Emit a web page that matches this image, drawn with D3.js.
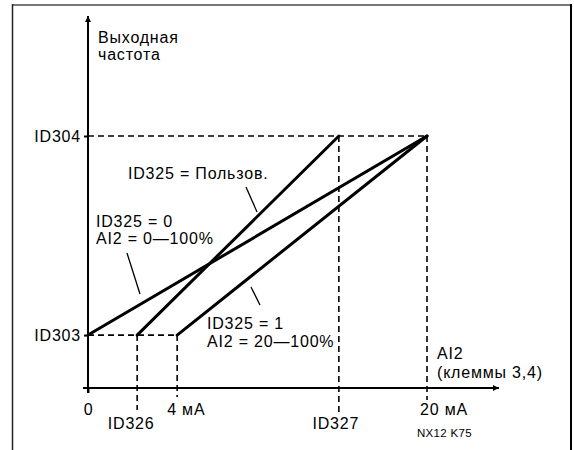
<!DOCTYPE html>
<html>
<head>
<meta charset="utf-8">
<script src="https://cdn.jsdelivr.net/npm/d3@7/dist/d3.min.js"></script>
<style>
  body { margin: 0; background: #fff; }
  text { font-family: "Liberation Sans", Arial, sans-serif; fill: #000; }
</style>
</head>
<body>
<div id="chart"></div>
<script>
// Relative positions on the axes (x: 0..100 % of AI2 span, y: 0..100 % of ID304)
var xMarks = ["0", "ID326", "4 мА", "ID327", "20 мА"];
var xValues = [0, 14.5, 26.3, 74, 100];
var yMarks = ["ID303", "ID304"];
var yValues = [21, 100];

// Three characteristic curves, all run from ID303 to ID304
var curveNames = ["ID325 = 0", "ID325 = Пользов.", "ID325 = 1"];
var curveStart = [0, 14.5, 26.3];
var curveEnd = [100, 74, 100];

var width = 574, height = 450;

var svg = d3.select("#chart").append("svg")
    .attr("width", width)
    .attr("height", height);

var x = d3.scaleLinear().domain([0, 100]).range([88, 427]);
var y = d3.scaleLinear().domain([0, 100]).range([388, 136]);

// frame
svg.append("line").attr("x1", 12).attr("y1", 5).attr("x2", 571).attr("y2", 5)
    .attr("stroke", "#777").attr("stroke-width", 2);
svg.append("line").attr("x1", 12.5).attr("y1", 4).attr("x2", 12.5).attr("y2", 450)
    .attr("stroke", "#222").attr("stroke-width", 1.5);
svg.append("line").attr("x1", 571).attr("y1", 4).attr("x2", 571).attr("y2", 450)
    .attr("stroke", "#000").attr("stroke-width", 2);

var defs = svg.append("defs");
defs.append("marker")
    .attr("id", "arrow")
    .attr("viewBox", "0 0 10 10")
    .attr("refX", 10).attr("refY", 5)
    .attr("markerWidth", 7).attr("markerHeight", 6)
    .attr("markerUnits", "userSpaceOnUse")
    .attr("orient", "auto")
    .append("path").attr("d", "M0,0L10,5L0,10Z").attr("fill", "#000");

// dashed guides
var dash = svg.append("g")
    .attr("stroke", "#000")
    .attr("stroke-width", 1.6)
    .attr("stroke-dasharray", "6,4");
dash.append("line").attr("x1", x(0)).attr("x2", x(100))
    .attr("y1", y(yValues[1])).attr("y2", y(yValues[1]));
dash.append("line").attr("x1", x(0)).attr("x2", x(xValues[2]))
    .attr("y1", y(yValues[0])).attr("y2", y(yValues[0]));
var dashEnds = [null, 410, 397, 414, 400];
var dashTops = [null, yValues[0], yValues[0], yValues[1], yValues[1]];
[1, 2, 3, 4].forEach(function(i) {
    dash.append("line")
        .attr("x1", x(xValues[i])).attr("x2", x(xValues[i]))
        .attr("y1", y(dashTops[i])).attr("y2", dashEnds[i]);
});

// axes
var axisX = d3.axisBottom(x).tickValues([0]).tickFormat("").tickSize(5).tickSizeOuter(0);
var axisY = d3.axisLeft(y).tickValues(yValues).tickFormat("").tickSize(4).tickSizeOuter(0);
var gx = svg.append("g").attr("transform", "translate(0," + y(0) + ")").call(axisX);
var gy = svg.append("g").attr("transform", "translate(" + x(0) + ",0)").call(axisY);
gx.select(".domain").remove();
gy.select(".domain").remove();
gx.selectAll("line").attr("stroke-width", 2);
gy.selectAll("line").attr("stroke-width", 2);

svg.append("line")
    .attr("x1", 83).attr("y1", y(0)).attr("x2", 499).attr("y2", y(0))
    .attr("stroke", "#000").attr("stroke-width", 2).attr("marker-end", "url(#arrow)");
svg.append("line")
    .attr("x1", x(0)).attr("y1", y(0) + 5).attr("x2", x(0)).attr("y2", 16)
    .attr("stroke", "#000").attr("stroke-width", 2).attr("marker-end", "url(#arrow)");

// curves
svg.append("g").selectAll("line")
    .data(curveNames)
    .enter().append("line")
    .attr("x1", function(d, i) { return x(curveStart[i]); })
    .attr("y1", y(yValues[0]))
    .attr("x2", function(d, i) { return x(curveEnd[i]); })
    .attr("y2", y(yValues[1]))
    .attr("stroke", "#000")
    .attr("stroke-width", 3)
    .attr("stroke-linecap", "round");

// leader lines
var leaders = [[127, 253, 140, 294], [246, 187, 257, 212], [251, 287, 260, 305]];
svg.append("g").selectAll("line")
    .data(leaders)
    .enter().append("line")
    .attr("x1", function(d) { return d[0]; })
    .attr("y1", function(d) { return d[1]; })
    .attr("x2", function(d) { return d[2]; })
    .attr("y2", function(d) { return d[3]; })
    .attr("stroke", "#000")
    .attr("stroke-width", 1.3);

// texts
var fs = 16;
function label(t, px, py, anchor, size, ls) {
    return svg.append("text")
        .attr("x", px).attr("y", py)
        .attr("text-anchor", anchor || "start")
        .attr("font-size", size || fs)
        .attr("letter-spacing", ls === undefined ? 0.8 : ls)
        .text(t);
}

label("Выходная", 98, 43);
label("частота", 98, 60);

label(yMarks[1], 81, y(yValues[1]) + 6, "end");
label(yMarks[0], 81, y(yValues[0]) + 6, "end");

label(xMarks[0], x(0) + 0.5, 415, "middle");
label(xMarks[1], x(xValues[1]) - 6, 429, "middle");
label(xMarks[2], x(xValues[2]) - 10, 415, "start");
label(xMarks[3], x(xValues[3]) - 3, 429, "middle");
label(xMarks[4], x(xValues[4]) - 7, 415, "start");

label("AI2", 437, 359);
label("(клеммы 3,4)", 437, 378);

label(curveNames[1], 128, 179);
label(curveNames[0], 96, 227);
label("AI2 = 0—100%", 96, 244);
label(curveNames[2], 207, 329);
label("AI2 = 20—100%", 207, 347);

label("NX12 K75", 417, 437, "start", 11.5, 0.3);
</script>
</body>
</html>
